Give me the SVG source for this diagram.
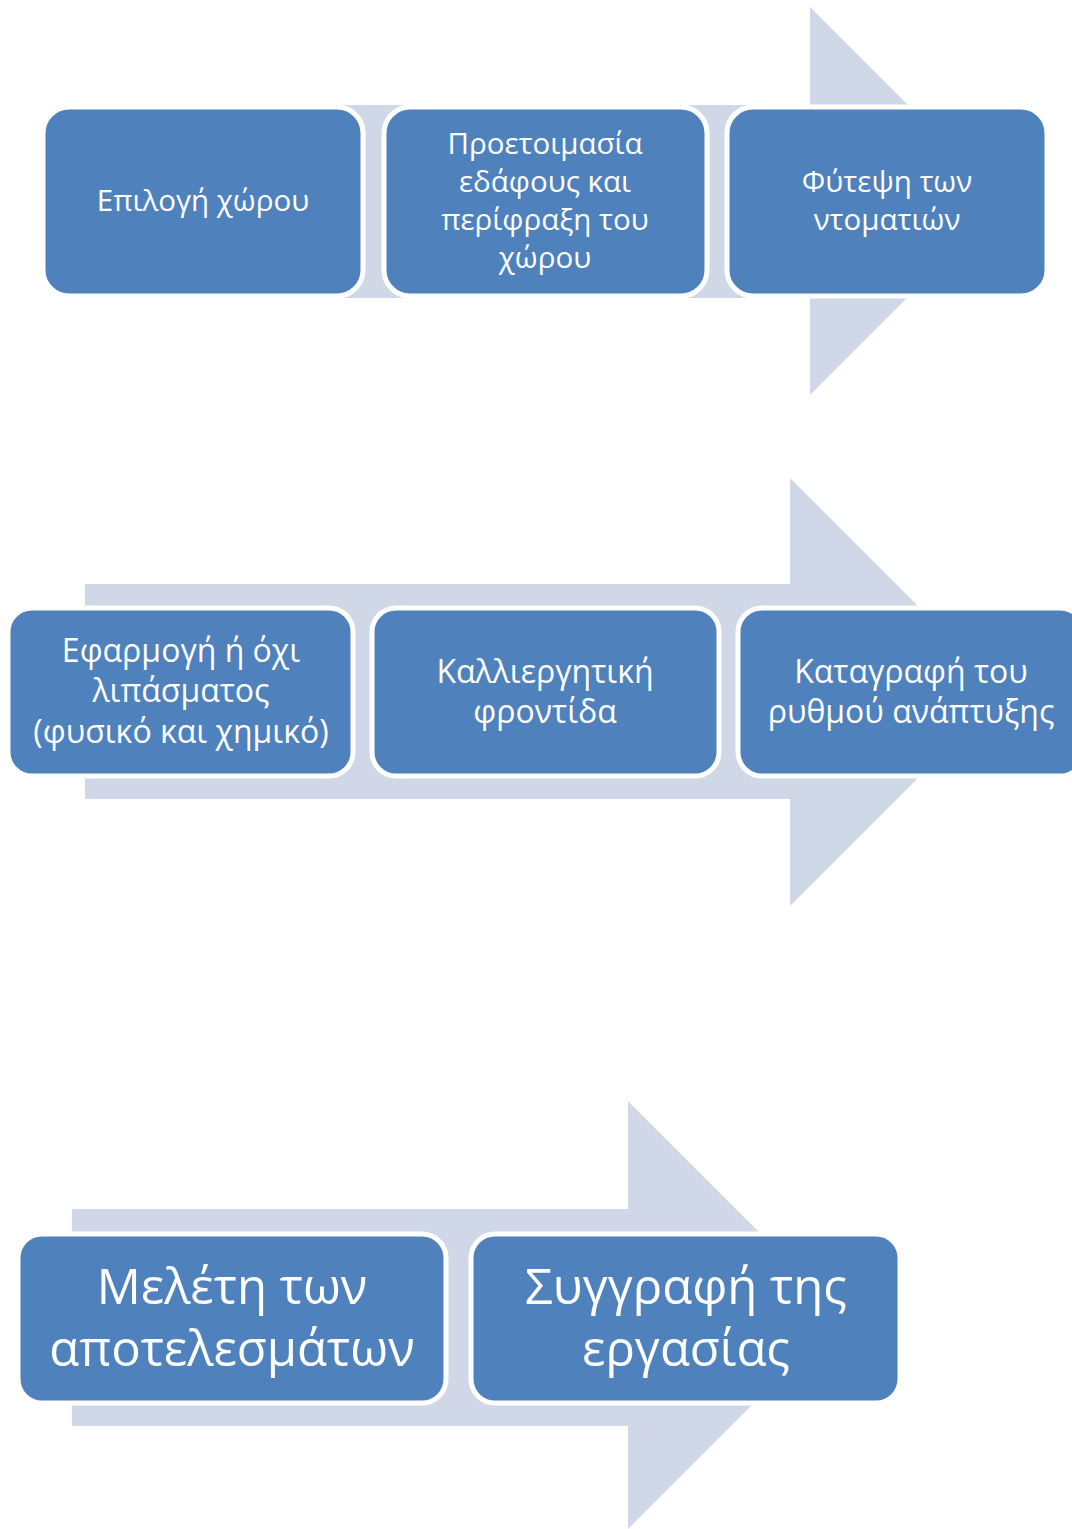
<svg xmlns="http://www.w3.org/2000/svg" width="1072" height="1529" viewBox="0 0 1072 1529">
<style>
.arrow{fill:#D0D8E8}
.box{fill:#4F81BD;stroke:#FFFFFF;stroke-width:5}
.t{fill:#FFFFFF;font-family:"Open Sans","Noto Sans","Liberation Sans",sans-serif;text-anchor:middle}
.s1{font-size:29.5px}
.s2{font-size:32px}
.s3{font-size:49px}
</style>
<g id="connectors">
<polygon class="arrow" points="85,105 810,105 810,7 1004,201 810,395 810,298 85,298"/>
<polygon class="arrow" points="85,584 790,584 790,478 1004,692 790,906 790,799 85,799"/>
<polygon class="arrow" points="72,1209 628,1209 628,1101 842,1315 628,1529 628,1426 72,1426"/>
</g>
<g id="n1">
<rect class="box" x="43" y="107" width="320" height="189" rx="26"/>
<text class="t s1" x="203" y="211">Επιλογή χώρου</text>
</g>
<g id="n2">
<rect class="box" x="384" y="107" width="323" height="189" rx="26"/>
<text class="t s1" x="545" y="154">Προετοιμασία</text>
<text class="t s1" x="545" y="192">εδάφους και</text>
<text class="t s1" x="545" y="230">περίφραξη του</text>
<text class="t s1" x="545" y="268">χώρου</text>
</g>
<g id="n3">
<rect class="box" x="727" y="107" width="320" height="189" rx="26"/>
<text class="t s1" x="887" y="192">Φύτεψη των</text>
<text class="t s1" x="887" y="230">ντοματιών</text>
</g>
<g id="n4">
<rect class="box" x="8" y="608" width="345" height="168" rx="24"/>
<text class="t s2" x="181" y="662">Εφαρμογή ή όχι</text>
<text class="t s2" x="181" y="702">λιπάσματος</text>
<text class="t s2" x="181" y="743">(φυσικό και χημικό)</text>
</g>
<g id="n5">
<rect class="box" x="372" y="608" width="347" height="168" rx="24"/>
<text class="t s2" x="545" y="683">Καλλιεργητική</text>
<text class="t s2" x="545" y="723">φροντίδα</text>
</g>
<g id="n6">
<rect class="box" x="738" y="608" width="346" height="168" rx="24"/>
<text class="t s2" x="911" y="683">Καταγραφή του</text>
<text class="t s2" x="911" y="723">ρυθμού ανάπτυξης</text>
</g>
<g id="n7">
<rect class="box" x="18" y="1234" width="428" height="169" rx="24"/>
<text class="t s3" x="232" y="1304">Μελέτη των</text>
<text class="t s3" x="232" y="1366">αποτελεσμάτων</text>
</g>
<g id="n8">
<rect class="box" x="471" y="1234" width="429" height="169" rx="24"/>
<text class="t s3" x="686" y="1304">Συγγραφή της</text>
<text class="t s3" x="686" y="1366">εργασίας</text>
</g>
</svg>
